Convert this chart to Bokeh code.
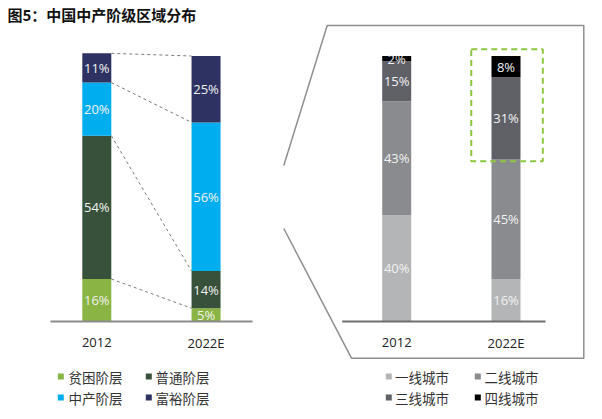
from bokeh.plotting import figure
from bokeh.models import Range1d, ColumnDataSource
from bokeh.embed import file_html
from bokeh.resources import INLINE
from bokeh.core.properties import value

# ---------------- data ----------------
title_text = "图5：中国中产阶级区域分布"
years = ["2012", "2022E"]

class_names = ["贫困阶层", "普通阶层", "中产阶层", "富裕阶层"]
class_2012 = [16, 54, 20, 11]
class_2022 = [5, 14, 56, 25]
class_colors = ["#8ab443", "#38513a", "#00aeef", "#2e3262"]

city_names = ["一线城市", "二线城市", "三线城市", "四线城市"]
city_2012 = [40, 43, 15, 2]
city_2022 = [16, 45, 31, 8]
city_colors = ["#b3b5b6", "#898b8e", "#5f6167", "#000000"]

# ---------------- layout helpers (page pixels -> data units) ----------------
PX0, PXU = 96.3, 109.25     # x of first bar centre, pixels per category unit
PY0, PYU = 321.0, 2.655     # baseline y, pixels per percent
def X(px): return (px - PX0) / PXU
def Y(py): return (PY0 - py) / PYU

W, H = 602, 419
BW = 29 / PXU
left_x = [0.0, 1.0]
right_x = [X(396.2), X(505.5)]

p = figure(width=W, height=H, output_backend="svg", toolbar_location=None,
           x_range=Range1d(X(0), X(W)), y_range=Range1d(Y(H), Y(0)),
           min_border=0, x_axis_location=None, y_axis_location=None,
           outline_line_color=None, background_fill_color="white",
           border_fill_color="white")
p.xgrid.visible = False
p.ygrid.visible = False

FONT = value("Open Sans")
CJK = value("Noto Sans CJK SC")

def stacked(xs, series_list, colors):
    rows = dict(x=[], bottom=[], top=[], color=[], mid=[], label=[])
    tops = []
    for x, vals in zip(xs, series_list):
        cum = 0
        t = []
        for v, c in zip(vals, colors):
            rows["x"].append(x); rows["bottom"].append(cum); rows["top"].append(cum + v)
            rows["color"].append(c); rows["mid"].append(cum + v / 2); rows["label"].append(f"{v}%")
            cum += v
            t.append(cum)
        tops.append(t)
    src = ColumnDataSource(rows)
    p.vbar(x="x", bottom="bottom", top="top", width=BW, fill_color="color",
           line_color=None, source=src)
    p.text(x="x", y="mid", text="label", source=src, text_font=FONT,
           text_font_size="13px", text_color="#f2f2f2", text_align="center",
           text_baseline="middle")
    return tops

# ---------------- left chart ----------------
ltops = stacked(left_x, [class_2012, class_2022], class_colors)
p.segment(x0=[left_x[0] + BW / 2] * 4, y0=ltops[0],
          x1=[left_x[1] - BW / 2] * 4, y1=ltops[1],
          line_color="#7a7a7a", line_width=1, line_dash="3 3")
p.segment(x0=[X(50)], y0=[0], x1=[X(252)], y1=[0], line_color="#8c8c8c", line_width=2)

# ---------------- right chart ----------------
rtops = stacked(right_x, [city_2012, city_2022], city_colors)
p.segment(x0=[X(341.7)], y0=[0], x1=[X(545)], y1=[0], line_color="#6e6e6e", line_width=2)

# highlight box around the 2022E upper segments
p.quad(left=[right_x[1] - 0.318], right=[right_x[1] + 0.337],
       bottom=[rtops[1][1] - 0.6], top=[rtops[1][3] + 2.5],
       fill_color=None, line_color="#8dc63f", line_width=2, line_dash="6 4")

# magnifier outline
p.line(x=[X(283.3), X(326.7), X(583.3), X(583.3), X(351), X(283.3)],
       y=[Y(165), Y(25), Y(25), Y(357.7), Y(357.7), Y(228)],
       line_color="#8f8f8f", line_width=1.5)

# category labels
p.text(x=left_x + right_x, y=[Y(342)] * 4, text=years + years, text_font=FONT,
       text_font_size="13px", text_color="#222222", text_align="center",
       text_baseline="middle")

# title
p.text(x=[X(7)], y=[Y(14)], text=[title_text], text_font=CJK, text_font_style="bold",
       text_font_size="15px", text_color="#111111", text_align="left",
       text_baseline="middle")

# legends
def legend(names, colors, sq_x, tx_x, rows_y):
    for i, (n, c) in enumerate(zip(names, colors)):
        col, row = i % 2, i // 2
        p.scatter(x=[X(sq_x[col])], y=[Y(rows_y[row])], marker="square", size=6,
                  fill_color=c, line_color=None)
        p.text(x=[X(tx_x[col])], y=[Y(rows_y[row])], text=[n], text_font=CJK,
               text_font_size="13.5px", text_color="#333333", text_align="left",
               text_baseline="middle")

legend(class_names, class_colors, [60.3, 148.3], [68, 155], [376, 397])
legend(city_names, city_colors, [388.3, 477.3], [394.5, 484], [376, 397])

open("out.html", "w").write(file_html(p, INLINE))
